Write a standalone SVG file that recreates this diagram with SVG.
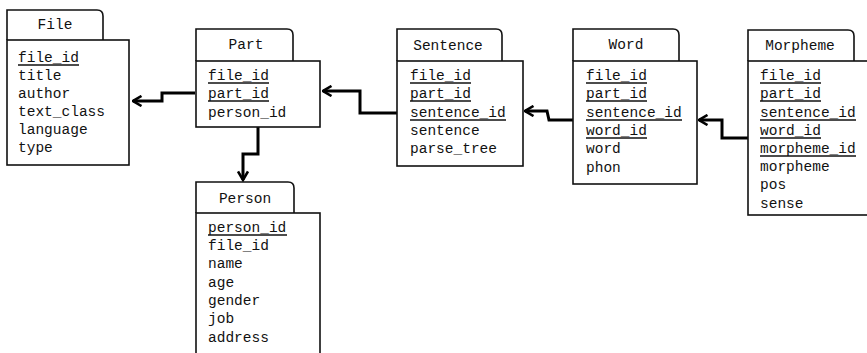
<svg xmlns="http://www.w3.org/2000/svg" width="867" height="353" viewBox="0 0 867 353">
  <style>
    .tab { fill: #fff; stroke: #111; stroke-width: 1.6; }
    .body { fill: #fff; stroke: #111; stroke-width: 1.6; }
    .t { font-family: "Liberation Mono", "Courier New", monospace; font-size: 14.5px; fill: #111; }
    .title { text-anchor: middle; }
    .key { stroke: #111; stroke-width: 1.6; }
    .conn { fill: none; stroke: #000; stroke-width: 3; stroke-linejoin: miter; }
  </style>
  <defs>
    <!-- open V arrowhead, tip at the end of the path -->
    <marker id="arrow" viewBox="0 0 12 12" refX="10.5" refY="6" markerWidth="12" markerHeight="12" markerUnits="userSpaceOnUse" orient="auto">
      <path d="M 2 1 L 10.5 6 L 2 11" fill="none" stroke="#000" stroke-width="2.6"/>
    </marker>
  </defs>
  <rect width="867" height="353" fill="#fff"/>

  <g id="connectors">
    <!-- Part -> File -->
    <path class="conn" d="M 195 93 H 162 V 101 H 133" marker-end="url(#arrow)"/>
    <!-- Part -> Person -->
    <path class="conn" d="M 258 127 V 154 H 243 V 180" marker-end="url(#arrow)"/>
    <!-- Sentence -> Part -->
    <path class="conn" d="M 397 113 H 360 V 91 H 323" marker-end="url(#arrow)"/>
    <!-- Word -> Sentence -->
    <path class="conn" d="M 573 120 H 549 L 547 111 H 525" marker-end="url(#arrow)"/>
    <!-- Morpheme -> Word -->
    <path class="conn" d="M 748 138 H 722 V 120 H 699" marker-end="url(#arrow)"/>
  </g>

  <g id="file">
    <path class="tab" d="M 7 40 V 10 H 97 Q 103 10 103 16 V 40"/>
    <rect class="body" x="7" y="40" width="122" height="125"/>
    <text class="t title" x="55" y="29">File</text>
    <text class="t" x="18" y="62">file_id</text>
    <line class="key" x1="18" y1="65" x2="79" y2="65"/>
    <text class="t" x="18" y="80">title</text>
    <text class="t" x="18" y="98">author</text>
    <text class="t" x="18" y="116">text_class</text>
    <text class="t" x="18" y="134">language</text>
    <text class="t" x="18" y="152">type</text>
  </g>

  <g id="part">
    <path class="tab" d="M 196 61 V 29 H 287 Q 293 29 293 35 V 61"/>
    <rect class="body" x="196" y="61" width="124" height="66"/>
    <text class="t title" x="246" y="49">Part</text>
    <text class="t" x="208" y="80">file_id</text>
    <line class="key" x1="208" y1="83" x2="269" y2="83"/>
    <text class="t" x="208" y="98">part_id</text>
    <line class="key" x1="208" y1="101" x2="269" y2="101"/>
    <text class="t" x="208" y="117">person_id</text>
  </g>

  <g id="sentence">
    <path class="tab" d="M 397 61 V 29 H 496 Q 502 29 502 35 V 61"/>
    <rect class="body" x="397" y="61" width="126" height="105"/>
    <text class="t title" x="448" y="50">Sentence</text>
    <text class="t" x="410" y="80">file_id</text>
    <line class="key" x1="410" y1="83" x2="471" y2="83"/>
    <text class="t" x="410" y="98">part_id</text>
    <line class="key" x1="410" y1="101" x2="471" y2="101"/>
    <text class="t" x="410" y="117">sentence_id</text>
    <line class="key" x1="410" y1="120" x2="506" y2="120"/>
    <text class="t" x="410" y="135">sentence</text>
    <text class="t" x="410" y="153">parse_tree</text>
  </g>

  <g id="word">
    <path class="tab" d="M 573 61 V 29 H 673 Q 679 29 679 35 V 61"/>
    <rect class="body" x="573" y="61" width="124" height="123"/>
    <text class="t title" x="626" y="49">Word</text>
    <text class="t" x="586" y="80">file_id</text>
    <line class="key" x1="586" y1="83" x2="647" y2="83"/>
    <text class="t" x="586" y="98">part_id</text>
    <line class="key" x1="586" y1="101" x2="647" y2="101"/>
    <text class="t" x="586" y="117">sentence_id</text>
    <line class="key" x1="586" y1="120" x2="682" y2="120"/>
    <text class="t" x="586" y="135">word_id</text>
    <line class="key" x1="586" y1="138" x2="647" y2="138"/>
    <text class="t" x="586" y="153">word</text>
    <text class="t" x="586" y="172">phon</text>
  </g>

  <g id="morpheme">
    <path class="tab" d="M 748 61 V 30 H 848 Q 854 30 854 36 V 61"/>
    <rect class="body" x="748" y="61" width="130" height="154"/>
    <text class="t title" x="800" y="50">Morpheme</text>
    <text class="t" x="760" y="80">file_id</text>
    <line class="key" x1="760" y1="83" x2="821" y2="83"/>
    <text class="t" x="760" y="98">part_id</text>
    <line class="key" x1="760" y1="101" x2="821" y2="101"/>
    <text class="t" x="760" y="117">sentence_id</text>
    <line class="key" x1="760" y1="120" x2="856" y2="120"/>
    <text class="t" x="760" y="135">word_id</text>
    <line class="key" x1="760" y1="138" x2="821" y2="138"/>
    <text class="t" x="760" y="153">morpheme_id</text>
    <line class="key" x1="760" y1="156" x2="856" y2="156"/>
    <text class="t" x="760" y="171">morpheme</text>
    <text class="t" x="760" y="189">pos</text>
    <text class="t" x="760" y="208">sense</text>
  </g>

  <g id="person">
    <path class="tab" d="M 196 213 V 182 H 288 Q 294 182 294 188 V 213"/>
    <rect class="body" x="196" y="213" width="124" height="150"/>
    <text class="t title" x="245" y="203">Person</text>
    <text class="t" x="208" y="232">person_id</text>
    <line class="key" x1="208" y1="235" x2="287" y2="235"/>
    <text class="t" x="208" y="250">file_id</text>
    <text class="t" x="208" y="268">name</text>
    <text class="t" x="208" y="287">age</text>
    <text class="t" x="208" y="305">gender</text>
    <text class="t" x="208" y="323">job</text>
    <text class="t" x="208" y="342">address</text>
  </g>
</svg>
